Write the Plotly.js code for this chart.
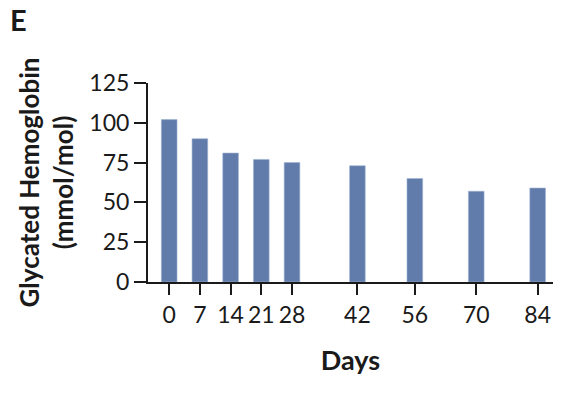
<!DOCTYPE html>
<html>
<head>
<meta charset="utf-8">
<script src="https://cdn.plot.ly/plotly-3.0.1.min.js"></script>
<style>html,body{margin:0;padding:0;background:#fff;}#chart{width:568px;height:398px;}</style>
</head>
<body>
<div id="chart"></div>
<script>
// Data
const dayLabels = ["0", "7", "14", "21", "28", "42", "56", "70", "84"];
// slot on the (non-linear) drawn day axis, as laid out in the original figure
const daySlots = [0, 1, 2, 3, 4, 6.13, 8, 10, 12];
const hba1c = [102, 90, 81, 77, 75, 73, 65, 57, 59];
const yTicks = [0, 25, 50, 75, 100, 125];

const FONT = "Lato, 'Open Sans', sans-serif";
const INK = "#1a1a1a";

const trace = {
  type: "bar",
  x: daySlots,
  y: hba1c,
  width: 0.51,
  marker: {color: "#617cab", line: {color: "#9fb2d2", width: 0.6}},
  hoverinfo: "skip"
};

const layout = {
  width: 568,
  height: 398,
  margin: {l: 148, r: 15, t: 83, b: 116},
  paper_bgcolor: "#fff",
  plot_bgcolor: "#fff",
  showlegend: false,
  font: {family: FONT, color: INK, size: 23},
  xaxis: {
    range: [-0.69, 12.5],
    tickmode: "array",
    tickvals: daySlots,
    ticktext: dayLabels,
    ticks: "outside",
    ticklen: 11,
    tickwidth: 2,
    tickcolor: INK,
    showline: true,
    linecolor: INK,
    linewidth: 2,
    showgrid: false,
    zeroline: false,
    tickfont: {family: FONT, size: 23, color: INK},
    title: {text: "<b>Days</b>", font: {family: FONT, size: 27, color: INK}, standoff: 25}
  },
  yaxis: {
    range: [0, 125],
    tickmode: "array",
    tickvals: yTicks,
    ticks: "outside",
    ticklen: 12,
    tickwidth: 2,
    tickcolor: INK,
    showline: true,
    linecolor: INK,
    linewidth: 2,
    showgrid: false,
    zeroline: false,
    tickfont: {family: FONT, size: 23, color: INK},
    title: {text: "<b>Glycated Hemoglobin<br>(mmol/mol)</b>", font: {family: FONT, size: 26, color: INK}, standoff: 8}
  },
  annotations: [{
    text: "<b>E</b>",
    xref: "paper", yref: "paper",
    x: -148/405, y: 1 + 83/199,
    xanchor: "left", yanchor: "top",
    xshift: 8, yshift: 0,
    showarrow: false,
    font: {family: FONT, size: 29, color: INK}
  }]
};

Plotly.newPlot("chart", [trace], layout, {displayModeBar: false, staticPlot: true});
</script>
</body>
</html>
